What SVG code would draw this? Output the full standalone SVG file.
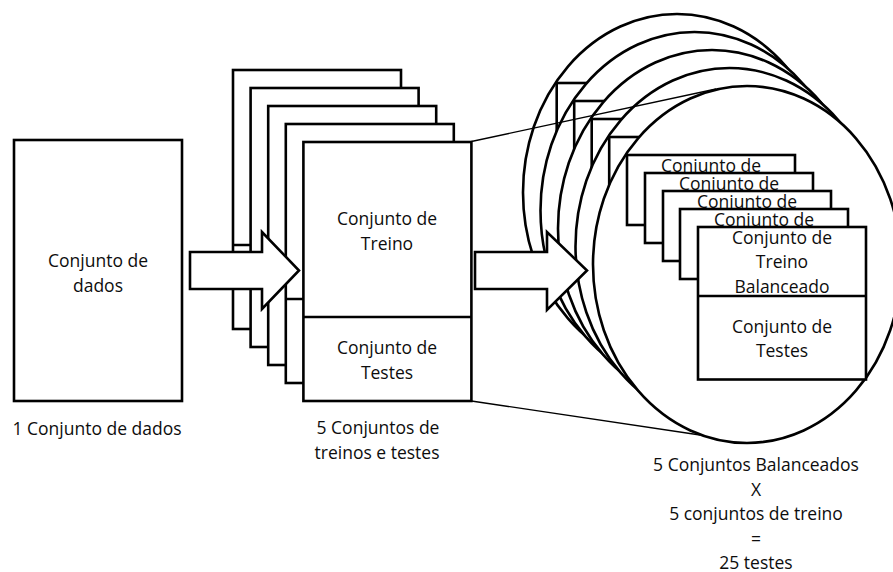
<svg xmlns="http://www.w3.org/2000/svg" width="893" height="572" viewBox="0 0 893 572">
<style>
.b{fill:#fff;stroke:#000;stroke-width:2.6}
.l{fill:none;stroke:#000;stroke-width:2.6}
.z{fill:none;stroke:#000;stroke-width:1.3}
text{font-family:"Open Sans","Noto Sans","Liberation Sans",sans-serif;font-size:17.5px;fill:#0d0d0d;text-anchor:middle}
</style>
<defs>
<clipPath id="cA"><rect x="627" y="155" width="168" height="17"/></clipPath>
<clipPath id="cB"><rect x="645" y="173" width="168" height="17"/></clipPath>
<clipPath id="cC"><rect x="663" y="191" width="168" height="17"/></clipPath>
<clipPath id="cD"><rect x="680" y="209" width="168" height="17"/></clipPath>
</defs>
<rect width="893" height="572" fill="#fff"/>

<g id="dataset">
<rect class="b" x="14" y="140" width="168" height="261"/>
<text x="98" y="266.5">Conjunto de</text>
<text x="98" y="291.5">dados</text>
<text x="97" y="435">1 Conjunto de dados</text>
</g>

<g id="splits">
<rect class="b" x="233" y="70" width="168" height="259"/><line class="l" x1="233" y1="245" x2="401" y2="245"/>
<rect class="b" x="250.6" y="88" width="168" height="259"/><line class="l" x1="250.6" y1="263" x2="418.6" y2="263"/>
<rect class="b" x="268.2" y="106" width="168" height="259"/><line class="l" x1="268.2" y1="281" x2="436.2" y2="281"/>
<rect class="b" x="285.8" y="124" width="168" height="259"/><line class="l" x1="285.8" y1="299" x2="453.8" y2="299"/>
<rect class="b" x="303.4" y="142" width="168" height="259"/><line class="l" x1="303.4" y1="317" x2="471.4" y2="317"/>
<text x="387" y="225">Conjunto de</text>
<text x="387" y="249.5">Treino</text>
<text x="387" y="354">Conjunto de</text>
<text x="387" y="379">Testes</text>
<text x="378" y="434">5 Conjuntos de</text>
<text x="377" y="459">treinos e testes</text>
</g>

<g id="arrow1">
<polygon class="b" points="190,252 262,252 262,232 299,270.5 262,309 262,289 190,289"/>
</g>

<g id="circle1">
<ellipse class="b" cx="677" cy="192.5" rx="154" ry="178.5"/>
<rect class="b" x="556.7" y="83" width="168" height="70"/>
</g>
<g id="circle2">
<ellipse class="b" cx="694.5" cy="210.5" rx="154" ry="178.5"/>
<rect class="b" x="574.2" y="101" width="168" height="70"/>
</g>
<g id="circle3">
<ellipse class="b" cx="712" cy="228.5" rx="154" ry="178.5"/>
<rect class="b" x="591.7" y="119" width="168" height="70"/>
</g>
<g id="circle4">
<ellipse class="b" cx="729.5" cy="246.5" rx="154" ry="178.5"/>
<rect class="b" x="609.2" y="137" width="168" height="70"/>
</g>

<g id="circle5">
<ellipse class="b" cx="747" cy="264.5" rx="154" ry="178.5"/>
<rect class="b" x="627" y="155" width="168" height="70"/>
<text x="711" y="171.5" clip-path="url(#cA)">Conjunto de</text>
<rect class="b" x="645" y="173" width="168" height="70"/>
<text x="729" y="189.5" clip-path="url(#cB)">Conjunto de</text>
<rect class="b" x="663" y="191" width="168" height="70"/>
<text x="747" y="207.5" clip-path="url(#cC)">Conjunto de</text>
<rect class="b" x="680" y="209" width="168" height="70"/>
<text x="764" y="225.5" clip-path="url(#cD)">Conjunto de</text>
<rect class="b" x="698" y="227" width="168" height="152.5"/>
<line class="l" x1="698" y1="296" x2="866" y2="296"/>
<text x="782" y="243.5">Conjunto de</text>
<text x="782" y="268">Treino</text>
<text x="782" y="292.5">Balanceado</text>
<text x="782" y="332.5">Conjunto de</text>
<text x="782" y="357">Testes</text>
</g>

<g id="connectors">
<line class="z" x1="471.4" y1="141.5" x2="716" y2="89"/>
<line class="z" x1="471.4" y1="401" x2="700" y2="435"/>
</g>

<g id="arrow2">
<polygon class="b" points="475,252 547,252 547,232 587,270.5 547,310 547,289 475,289"/>
</g>

<g id="summary">
<text x="756" y="471">5 Conjuntos Balanceados</text>
<text x="756" y="495.5">X</text>
<text x="756" y="520">5 conjuntos de treino</text>
<text x="756" y="544.5">=</text>
<text x="756" y="568.5">25 testes</text>
</g>
</svg>
